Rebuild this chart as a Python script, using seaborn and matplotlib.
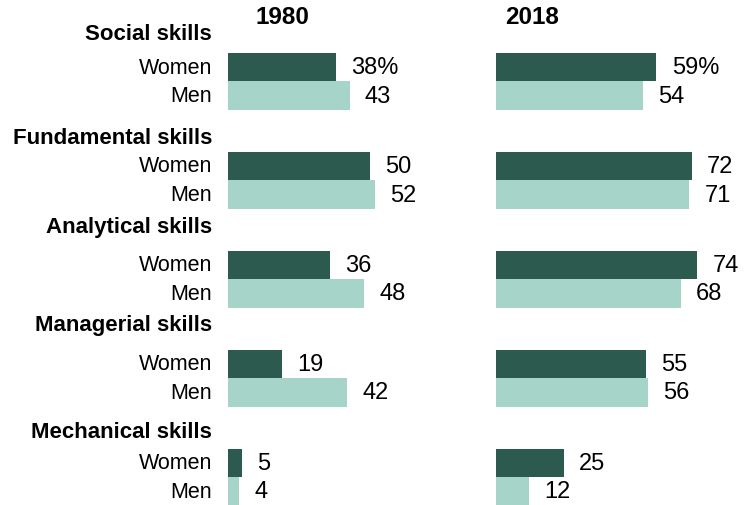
import numpy as np
import pandas as pd
import seaborn as sns
import matplotlib.pyplot as plt

skills = ["Social skills", "Fundamental skills", "Analytical skills",
          "Managerial skills", "Mechanical skills"]
women_1980 = [38, 50, 36, 19, 5]
men_1980 = [43, 52, 48, 42, 4]
women_2018 = [59, 72, 74, 55, 25]
men_2018 = [54, 71, 68, 56, 12]
years = ["1980", "2018"]

dark = "#2d5a4f"
light = "#a6d4c9"

sns.set_style("white")
plt.rcParams["font.family"] = ["Liberation Sans", "DejaVu Sans"]

W, H = 748, 506
fig = plt.figure(figsize=(W / 100, H / 100), dpi=100)

# vertical layout in pixel units (y grows downward)
women_y = [68 + g * 99 for g in range(len(skills))]
men_y = [y + 28.5 for y in women_y]
title_gap = [34, 29, 39, 39, 31]
title_y = [y - gap for y, gap in zip(women_y, title_gap)]


def make_df(women, men):
    rows = []
    for i in range(len(skills)):
        rows.append({"skill": skills[i], "gender": "Women", "value": women[i], "ypos": women_y[i]})
        rows.append({"skill": skills[i], "gender": "Men", "value": men[i], "ypos": men_y[i]})
    return pd.DataFrame(rows)


panels = [
    (make_df(women_1980, men_1980), 228, 2.83, 282),
    (make_df(women_2018, men_2018), 496, 2.72, 532),
]
xmax = 80

for (df, left_px, px_per_unit, year_x), year in zip(panels, years):
    ax = fig.add_axes([left_px / W, 0, px_per_unit * xmax / W, 1])
    sns.barplot(data=df, x="value", y="ypos", hue="gender", orient="h",
                native_scale=True, dodge=False, width=1.0,
                palette={"Women": dark, "Men": light}, legend=False,
                saturation=1, linewidth=0, ax=ax)
    ax.set_xlim(0, xmax)
    ax.set_ylim(H, 0)
    ax.axis("off")
    for i, row in df.iterrows():
        label = str(row["value"])
        if i == 0:
            label += "%"
        ax.annotate(label, (row["value"], row["ypos"]), xytext=(11, 0),
                    textcoords="offset points", va="center", ha="left",
                    fontsize=17, color="black")
    fig.text(year_x / W, 1 - 18 / H, year, ha="center", va="center",
             fontsize=17.5, fontweight="bold", color="black")

label_x = 212 / W
for i, skill in enumerate(skills):
    fig.text(label_x, 1 - title_y[i] / H, skill, ha="right", va="center",
             fontsize=16, fontweight="bold", color="black")
    fig.text(label_x, 1 - women_y[i] / H, "Women", ha="right", va="center",
             fontsize=15.5, color="black")
    fig.text(label_x, 1 - men_y[i] / H, "Men", ha="right", va="center",
             fontsize=15.5, color="black")

fig.savefig("out.png", dpi=100)
